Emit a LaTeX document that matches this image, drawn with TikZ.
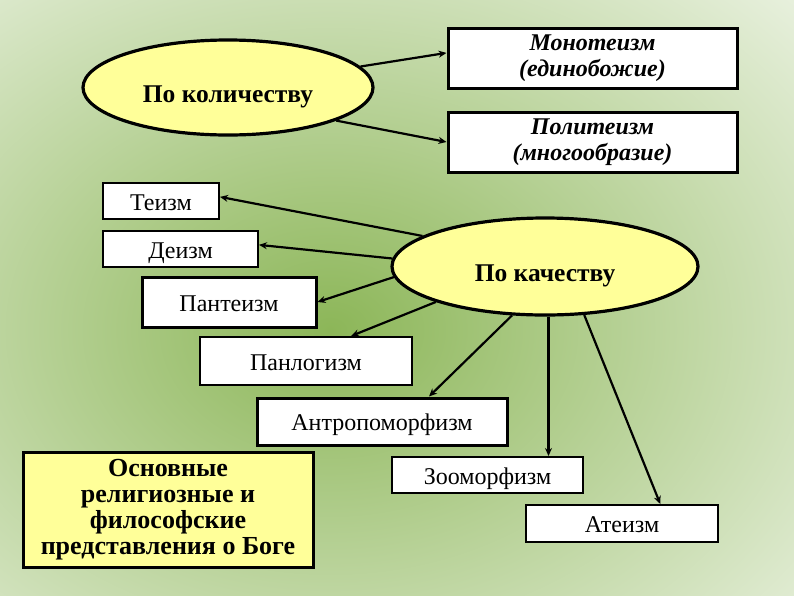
\documentclass[tikz,border=0pt]{standalone}
\usepackage{fontspec}
\setmainfont{Liberation Serif}
\usetikzlibrary{positioning, arrows.meta, shapes.geometric}
\definecolor{bgGreen}{RGB}{140,182,88}
\definecolor{ellFill}{RGB}{255,255,153}
\definecolor{keyFill}{RGB}{255,255,153}
\tikzset{
  every node/.style={font=\fontsize{24}{26}\selectfont},
  B/.style={draw=black, fill=white, inner sep=0pt, align=center},
  THIN/.style={B, line width=2pt, text height=18pt, text depth=0pt},
  THICK/.style={B, line width=3pt, text height=18pt, text depth=0pt},
  HEAD/.style={B, line width=3pt, font=\fontsize{24}{26}\selectfont\bfseries\itshape},
  KEY/.style={B, line width=3pt, fill=keyFill, font=\fontsize{26}{26}\selectfont\bfseries},
  ELL/.style={ellipse, draw=black, fill=ellFill, line width=3.2pt, inner sep=0pt,
              text height=30pt, text depth=0pt,
              font=\fontsize{25.5}{27}\selectfont\bfseries},
  AR/.style={-{Stealth[length=8pt, width=7pt]}, line width=2.2pt, black},
}
\newcommand{\linkto}[2]{\draw[AR] (#1) -- (#2);}

\begin{document}
\begin{tikzpicture}[x=1pt, y=1pt, yscale=-1]

\useasboundingbox (0,0) rectangle (794,595);

%% ═══════════════════════════════════════════════════════════════════════
%%  Background
%% ═══════════════════════════════════════════════════════════════════════
\begin{scope}
  \clip (0,0) rectangle (794,595);
  \fill[white] (0,0) rectangle (794,595);
  \shade[inner color=bgGreen, outer color=white] (-474,-275) rectangle (1134,935);
\end{scope}

%% ═══════════════════════════════════════════════════════════════════════
%%  Top — by number
%% ═══════════════════════════════════════════════════════════════════════
\node[ELL, minimum width=290pt, minimum height=95pt] (KOL) at (228,87.5)
  {По количеству};
\node[HEAD, minimum width=289pt, minimum height=60pt] (MONO) at (592.5,58)
  {Монотеизм\\(единобожие)};
\node[HEAD, minimum width=289pt, minimum height=60pt] (POLI) at (592.5,142)
  {Политеизм\\(многообразие)};

\linkto{KOL.9}{MONO.178}
\linkto{KOL.343}{POLI.west}

%% ═══════════════════════════════════════════════════════════════════════
%%  Middle — by quality
%% ═══════════════════════════════════════════════════════════════════════
\node[ELL, minimum width=306pt, minimum height=97pt] (KACH) at (545,266.5)
  {По качеству};

\node[THIN,  minimum width=116pt, minimum height=36pt] (TEIZM) at (161,201)   {Теизм};
\node[THIN,  minimum width=155pt, minimum height=36pt] (DEIZM) at (180.5,249) {Деизм};
\node[THICK, minimum width=174pt, minimum height=50pt] (PANT)  at (229,302)   {Пантеизм};
\node[THIN,  minimum width=212pt, minimum height=48pt] (PANL)  at (306,361)   {Панлогизм};
\node[THICK, minimum width=250pt, minimum height=47pt] (ANTR)  at (382,421.5) {Антропоморфизм};
\node[THIN,  minimum width=191pt, minimum height=36pt] (ZOO)   at (487.5,475) {Зооморфизм};
\node[THIN,  minimum width=192pt, minimum height=37pt] (ATE)   at (622,523.5) {Атеизм};

\linkto{KACH.166}{TEIZM.4}
\linkto{KACH.177}{DEIZM.3}
\linkto{KACH.184}{PANT.east}
\linkto{KACH.198}{PANL.29}
\linkto{KACH.236}{ANTR.28}
\linkto{KACH.274}{KACH.274 |- ZOO.north}
\linkto{KACH.309}{ATE.27}

%% Caption box
\node[KEY, minimum width=290pt, minimum height=115pt] (KEYBOX) at (168,509.5)
  {Основные\\религиозные и\\философские\\представления о Боге};

\end{tikzpicture}
\end{document}
